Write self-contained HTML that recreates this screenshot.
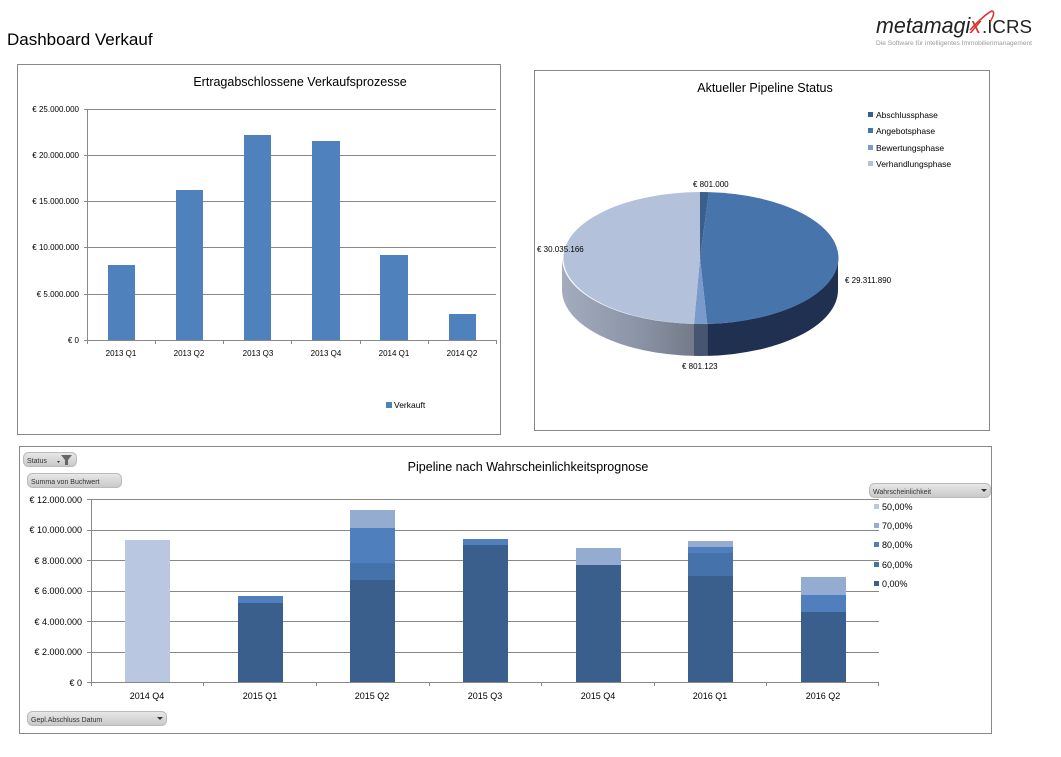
<!DOCTYPE html>
<html><head><meta charset="utf-8"><style>
html,body{margin:0;padding:0;background:#fff;}
svg{display:block;font-family:"Liberation Sans",sans-serif;}
</style></head><body>
<svg width="1061" height="757" viewBox="0 0 1061 757" xmlns="http://www.w3.org/2000/svg">
<defs>
<linearGradient id="vs" x1="562" y1="0" x2="694" y2="0" gradientUnits="userSpaceOnUse">
<stop offset="0" stop-color="#a3acbd"/><stop offset="0.6" stop-color="#8a93a6"/><stop offset="1" stop-color="#737a88"/></linearGradient>
<linearGradient id="btn" x1="0" y1="0" x2="0" y2="1"><stop offset="0" stop-color="#e8e8e8"/><stop offset="1" stop-color="#c8c8c8"/></linearGradient>
</defs>
<!-- header -->
<text x="7" y="45" font-size="17" fill="#000">Dashboard Verkauf</text>
<text x="876" y="33" font-size="22" font-style="italic" fill="#222" textLength="105" lengthAdjust="spacingAndGlyphs">metamagi<tspan fill="#d8332a">x</tspan></text>
<text x="982" y="33" font-size="18" fill="#222" textLength="50" lengthAdjust="spacingAndGlyphs">.ICRS</text>
<path d="M970 30 Q985 14 992 11 Q996 12 990 22" stroke="#d8332a" stroke-width="1.5" fill="none"/>
<text x="876" y="45" font-size="6" fill="#999" textLength="156" lengthAdjust="spacingAndGlyphs">Die Software für intelligentes Immobilienmanagement</text>

<!-- chart 1 -->
<rect x="17.5" y="64.5" width="483" height="370" fill="#fff" stroke="#888"/>
<text x="300" y="86" font-size="12.5" text-anchor="middle" fill="#000">Ertragabschlossene Verkaufsprozesse</text>
<g stroke="#888" stroke-width="1">
<line x1="84" y1="109.5" x2="496" y2="109.5"/><line x1="84" y1="155.5" x2="496" y2="155.5"/>
<line x1="84" y1="201.5" x2="496" y2="201.5"/><line x1="84" y1="247.5" x2="496" y2="247.5"/>
<line x1="84" y1="294.5" x2="496" y2="294.5"/><line x1="84" y1="340.5" x2="496" y2="340.5"/>
<line x1="87.5" y1="109" x2="87.5" y2="344"/>
<line x1="155.5" y1="340" x2="155.5" y2="344"/><line x1="223.5" y1="340" x2="223.5" y2="344"/>
<line x1="291.5" y1="340" x2="291.5" y2="344"/><line x1="360.5" y1="340" x2="360.5" y2="344"/>
<line x1="428.5" y1="340" x2="428.5" y2="344"/><line x1="496.5" y1="340" x2="496.5" y2="344"/>
</g>
<g fill="#4f81bd">
<rect x="108" y="265" width="27" height="75"/><rect x="176" y="190" width="27" height="150"/>
<rect x="244" y="135" width="27" height="205"/><rect x="312" y="141" width="28" height="199"/>
<rect x="380" y="255" width="28" height="85"/><rect x="449" y="314" width="27" height="26"/>
</g>
<g font-size="8" fill="#000" text-anchor="end">
<text x="79" y="112">€ 25.000.000</text><text x="79" y="158">€ 20.000.000</text>
<text x="79" y="204">€ 15.000.000</text><text x="79" y="250">€ 10.000.000</text>
<text x="79" y="297">€ 5.000.000</text><text x="79" y="343">€ 0</text>
</g>
<g font-size="8" fill="#000" text-anchor="middle">
<text x="121" y="356">2013 Q1</text><text x="189" y="356">2013 Q2</text><text x="258" y="356">2013 Q3</text>
<text x="326" y="356">2013 Q4</text><text x="394" y="356">2014 Q1</text><text x="462" y="356">2014 Q2</text>
</g>
<rect x="386" y="402" width="6" height="6" fill="#4f81bd"/>
<text x="394" y="408" font-size="8.5" fill="#000">Verkauft</text>

<!-- chart 2 pie -->
<rect x="534.5" y="70.5" width="455" height="360" fill="#fff" stroke="#888"/>
<text x="765" y="92" font-size="12.5" text-anchor="middle" fill="#000">Aktueller Pipeline Status</text>
<g font-size="8.5" fill="#000">
<rect x="868" y="112" width="5" height="5" fill="#3a5f8d"/><text x="876" y="118">Abschlussphase</text>
<rect x="868" y="128" width="5" height="5" fill="#4672ab"/><text x="876" y="134">Angebotsphase</text>
<rect x="868" y="145" width="5" height="5" fill="#7a9acb"/><text x="876" y="151">Bewertungsphase</text>
<rect x="868" y="161" width="5" height="5" fill="#b3c2da"/><text x="876" y="167">Verhandlungsphase</text>
</g>
<path d="M838,258 A138,66 0 0 1 707.2,323.9 L707.2,355.9 A138,66 0 0 0 838,290 Z" fill="#1f3050"/>
<path d="M707.2,323.9 A138,66 0 0 1 694,323.9 L694,355.9 A138,66 0 0 0 707.2,355.9 Z" fill="#465570"/>
<path d="M694,323.9 A138,66 0 0 1 562,258 L562,290 A138,66 0 0 0 694,355.9 Z" fill="url(#vs)"/>
<path d="M700,258 L700,192 A138,66 0 0 1 708.9,192.1 Z" fill="#3a5f8d"/>
<path d="M700,258 L708.9,192.1 A138,66 0 0 1 707.2,323.9 Z" fill="#4674ab"/>
<path d="M700,258 L707.2,323.9 A138,66 0 0 1 694,323.9 Z" fill="#7a9acb"/>
<path d="M700,258 L694,323.9 A138,66 0 0 1 700,192 Z" fill="#b3c2da"/>
<g font-size="8" fill="#000">
<text x="693" y="187">€ 801.000</text><text x="845" y="283">€ 29.311.890</text>
<text x="682" y="369">€ 801.123</text><text x="537" y="252">€ 30.035.166</text>
</g>

<!-- chart 3 -->
<rect x="19.5" y="446.5" width="972" height="287" fill="#fff" stroke="#888"/>
<text x="528" y="471" font-size="12.5" text-anchor="middle" fill="#000">Pipeline nach Wahrscheinlichkeitsprognose</text>
<rect x="23.5" y="452.5" width="53" height="14" rx="5" fill="url(#btn)" stroke="#bbb"/>
<text x="27" y="463" font-size="7" fill="#333">Status</text>
<path d="M57 461 L60 461 L58.5 463 Z" fill="#333"/>
<path d="M61 455 L72 455 L68 460 L68 465 L65 465 L65 460 Z" fill="#666"/>
<rect x="27.5" y="473.5" width="94" height="14" rx="5" fill="url(#btn)" stroke="#bbb"/>
<text x="31" y="484" font-size="7" fill="#333">Summa von Buchwert</text>
<rect x="27.5" y="711.5" width="139" height="14" rx="5" fill="url(#btn)" stroke="#bbb"/>
<text x="31" y="722" font-size="7" fill="#333">Gepl.Abschluss Datum</text>
<path d="M157 717 L163 717 L160 720 Z" fill="#333"/>
<rect x="869.5" y="483.5" width="121" height="14" rx="5" fill="url(#btn)" stroke="#bbb"/>
<text x="873" y="494" font-size="7" fill="#333">Wahrscheinlichkeit</text>
<path d="M981 489 L987 489 L984 492 Z" fill="#333"/>
<g stroke="#888" stroke-width="1">
<line x1="87" y1="499.5" x2="879" y2="499.5"/><line x1="87" y1="530.5" x2="879" y2="530.5"/>
<line x1="87" y1="560.5" x2="879" y2="560.5"/><line x1="87" y1="591.5" x2="879" y2="591.5"/>
<line x1="87" y1="621.5" x2="879" y2="621.5"/><line x1="87" y1="652.5" x2="879" y2="652.5"/>
<line x1="87" y1="682.5" x2="879" y2="682.5"/>
<line x1="91.5" y1="499" x2="91.5" y2="686"/>
<line x1="203.5" y1="682" x2="203.5" y2="686"/><line x1="316.5" y1="682" x2="316.5" y2="686"/>
<line x1="429.5" y1="682" x2="429.5" y2="686"/><line x1="541.5" y1="682" x2="541.5" y2="686"/>
<line x1="654.5" y1="682" x2="654.5" y2="686"/><line x1="766.5" y1="682" x2="766.5" y2="686"/>
<line x1="878.5" y1="682" x2="878.5" y2="686"/>
</g>
<rect x="125" y="540" width="45" height="142" fill="#b9c7e0"/>
<rect x="238" y="603" width="45" height="79" fill="#3a5f8d"/><rect x="238" y="596" width="45" height="7" fill="#4f80bd"/>
<rect x="350" y="580" width="45" height="102" fill="#3a5f8d"/><rect x="350" y="563" width="45" height="17" fill="#4672ab"/>
<rect x="350" y="528" width="45" height="35" fill="#4f80bd"/><rect x="350" y="510" width="45" height="18" fill="#95acd1"/>
<rect x="463" y="545" width="45" height="137" fill="#3a5f8d"/><rect x="463" y="539" width="45" height="6" fill="#4f80bd"/>
<rect x="576" y="565" width="45" height="117" fill="#3a5f8d"/><rect x="576" y="548" width="45" height="17" fill="#95acd1"/>
<rect x="688" y="576" width="45" height="106" fill="#3a5f8d"/><rect x="688" y="553" width="45" height="23" fill="#4672ab"/>
<rect x="688" y="547" width="45" height="6" fill="#4f80bd"/><rect x="688" y="541" width="45" height="6" fill="#95acd1"/>
<rect x="801" y="612" width="45" height="70" fill="#3a5f8d"/><rect x="801" y="595" width="45" height="17" fill="#4f80bd"/>
<rect x="801" y="577" width="45" height="18" fill="#95acd1"/>
<g font-size="9" fill="#000" text-anchor="end">
<text x="82" y="503">€ 12.000.000</text><text x="82" y="533">€ 10.000.000</text>
<text x="82" y="564">€ 8.000.000</text><text x="82" y="594">€ 6.000.000</text>
<text x="82" y="625">€ 4.000.000</text><text x="82" y="655">€ 2.000.000</text>
<text x="82" y="686">€ 0</text>
</g>
<g font-size="9" fill="#000" text-anchor="middle">
<text x="147" y="699">2014 Q4</text><text x="260" y="699">2015 Q1</text><text x="372" y="699">2015 Q2</text>
<text x="485" y="699">2015 Q3</text><text x="598" y="699">2015 Q4</text><text x="710" y="699">2016 Q1</text>
<text x="823" y="699">2016 Q2</text>
</g>
<g font-size="9" fill="#000">
<rect x="874" y="504" width="5" height="5" fill="#b9c7e0"/><text x="882" y="510">50,00%</text>
<rect x="874" y="523" width="5" height="5" fill="#95acd1"/><text x="882" y="529">70,00%</text>
<rect x="874" y="542" width="5" height="5" fill="#4f80bd"/><text x="882" y="548">80,00%</text>
<rect x="874" y="562" width="5" height="5" fill="#4672ab"/><text x="882" y="568">60,00%</text>
<rect x="874" y="581" width="5" height="5" fill="#3a5f8d"/><text x="882" y="587">0,00%</text>
</g>
</svg>
</body></html>
